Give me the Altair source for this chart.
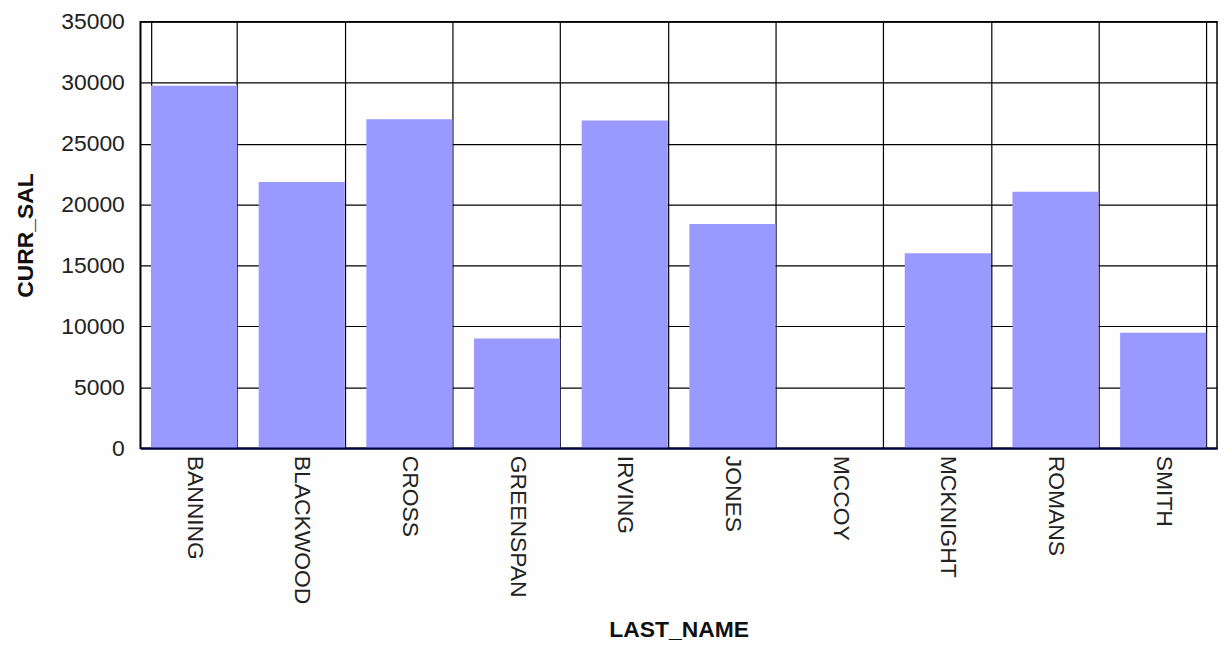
import altair as alt
import pandas as pd

names = ["BANNING", "BLACKWOOD", "CROSS", "GREENSPAN", "IRVING",
         "JONES", "MCCOY", "MCKNIGHT", "ROMANS", "SMITH"]
salaries = [29750, 21850, 27000, 9000, 26900, 18400, 0, 16000, 21050, 9480]
y_ticks = [0, 5000, 10000, 15000, 20000, 25000, 30000, 35000]

df = pd.DataFrame({"LAST_NAME": names, "CURR_SAL": salaries})

FONT = "Liberation Sans"

x_enc = alt.X(
    "LAST_NAME:N",
    sort=names,
    scale=alt.Scale(paddingInner=0.2, paddingOuter=0.1),
    axis=alt.Axis(
        title="LAST_NAME",
        labelAngle=90,
        labelAlign="left",
        labelBaseline="middle",
        labelPadding=7,
        labelFont=FONT,
        labelFontSize=23,
        labelColor="#222222",
        ticks=False,
        tickSize=0,
        grid=True,
        gridColor="#000000",
        gridWidth=1.2,
        gridOpacity=1,
        tickBand="extent",
        domainColor="#000040",
        domainWidth=1.5,
        titleFont=FONT,
        titleFontSize=23,
        titleFontWeight="bold",
        titleColor="#111111",
        titleX=541.5,
        titleY=189,
        titleAlign="center",
        titleBaseline="alphabetic",
        labelOverlap=False,
    ),
)

y_enc = alt.Y(
    "CURR_SAL:Q",
    scale=alt.Scale(domain=[0, 35000], nice=False),
    axis=alt.Axis(
        title="CURR_SAL",
        values=y_ticks,
        format="d",
        labelPadding=16,
        labelFont=FONT,
        labelFontSize=23,
        labelColor="#222222",
        ticks=False,
        tickSize=0,
        grid=True,
        gridColor="#000000",
        gridWidth=1.2,
        gridOpacity=1,
        domainColor="#000000",
        domainWidth=1.5,
        titleFont=FONT,
        titleFontSize=23,
        titleFontWeight="bold",
        titleColor="#111111",
        titleAngle=270,
        titleX=-108,
        titleY=214.5,
        titleAlign="center",
        titleBaseline="alphabetic",
    ),
)

bars = alt.Chart(df).mark_bar(color="#9999FF").encode(x=x_enc, y=y_enc)

baseline = alt.Chart(pd.DataFrame({"v": [0]})).mark_rule(
    color="#000040", strokeWidth=1.5
).encode(y=alt.Y("v:Q", scale=alt.Scale(domain=[0, 35000], nice=False)))

chart = alt.layer(bars, baseline).properties(
    width=1083,
    height=429,
    autosize=alt.AutoSizeParams(type="none"),
    padding={"left": 133, "top": 12, "right": 2, "bottom": 195},
    background="#FDFEFD",
).configure_view(stroke="#000000", strokeWidth=1.5)

chart.save("out.html", embed_options={"renderer": "svg", "actions": False})
